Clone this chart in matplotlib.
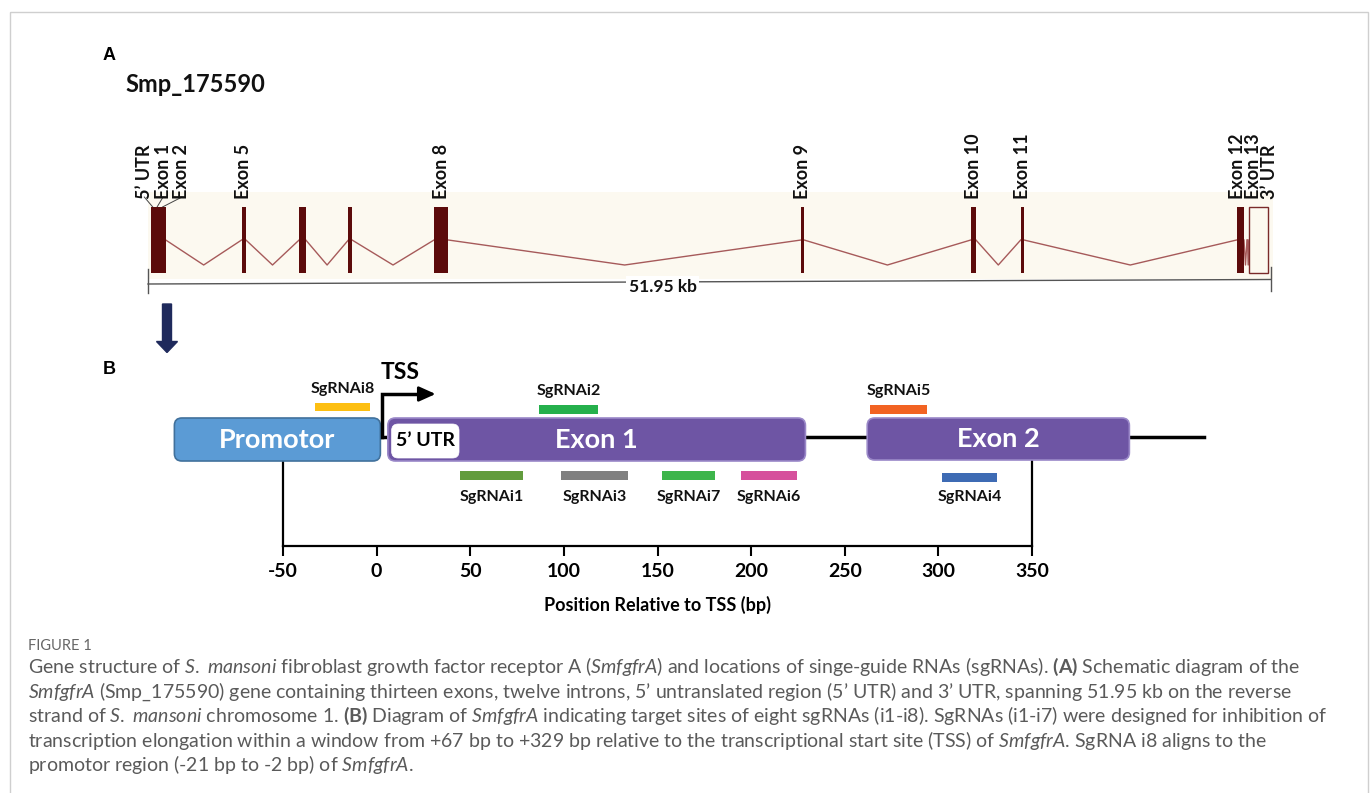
import matplotlib
matplotlib.use("Agg")
import matplotlib.pyplot as plt
from matplotlib.patches import Rectangle, FancyBboxPatch, FancyArrow

W, H = 1372, 793

plt.rcParams['font.family'] = 'Lato'
plt.rcParams['mathtext.fontset'] = 'custom'
plt.rcParams['mathtext.rm'] = 'Lato'
plt.rcParams['mathtext.it'] = 'Lato:italic'
plt.rcParams['mathtext.bf'] = 'Lato:bold'

# ---- panel A: gene model, positions in kb from the 5' end ----
gene_name = "Smp_175590"
gene_len = 51.95
exon_names = ["5’ UTR", "Exon 1", "Exon 2", "Exon 5", "", "", "Exon 8",
              "Exon 9", "Exon 10", "Exon 11", "Exon 12", "Exon 13"]
exon_start = [0.12, 0.34, 0.52, 4.33, 6.99, 9.27, 13.23, 30.21, 38.06, 40.37, 50.36, 50.84]
exon_end = [0.32, 0.50, 0.82, 4.53, 7.30, 9.44, 13.89, 30.35, 38.30, 40.52, 50.70, 50.86]
utr3_name = "3’ UTR"
utr3 = (50.93, 51.83)

# ---- panel B: bp relative to TSS ----
promoter = (-108, 2)
exon1 = (6, 229)
utr5 = (8, 44)
exon2 = (262, 402)
line_end = 442
tss = 3
sg_names = ["SgRNAi1", "SgRNAi2", "SgRNAi3", "SgRNAi4",
            "SgRNAi5", "SgRNAi6", "SgRNAi7", "SgRNAi8"]
sg_start = [44.5, 86.7, 98.5, 301.9, 263.5, 194.6, 152.4, -32.8]
sg_end = [78.2, 118.2, 134.3, 331.3, 293.9, 224.5, 180.7, -3.5]
sg_above = [False, True, False, False, True, False, False, True]
sg_colors = ["#629c3d", "#25b04c", "#808080", "#3e6bb4",
             "#f26322", "#d6509c", "#3db54b", "#fdbf12"]
ruler_ticks = list(range(-50, 351, 50))

fig = plt.figure(figsize=(W / 100, H / 100), dpi=100)


def px_axes(x0, x1, y0, y1, xlim):
    # axes placed in pixel coordinates, y data == pixel row
    ax = fig.add_axes([x0 / W, (H - y1) / H, (x1 - x0) / W, (y1 - y0) / H])
    ax.set_xlim(*xlim)
    ax.set_ylim(y1, y0)
    ax.patch.set_alpha(0)
    return ax


# ================= Panel A =================
maroon = "#5c0b0b"
axA = px_axes(148, 1271, 192, 279, (0, gene_len))
axA.axis('off')
kb_px = 1123 / gene_len
axA.add_patch(Rectangle((0, 192), gene_len + 0.1, 87, fc="#fcf9f0", ec="none", clip_on=False))

for s, e in zip(exon_start, exon_end):
    axA.add_patch(Rectangle((s, 207), e - s, 66, fc=maroon, ec="none", clip_on=False, zorder=3))
axA.add_patch(Rectangle((utr3[0], 207), utr3[1] - utr3[0], 66, fc="none", ec="#7a2a2a",
                        lw=1, clip_on=False, zorder=3))

# introns: only between blocks that are clearly apart
blocks = list(zip(exon_start, exon_end)) + [utr3]
for (s1, e1), (s2, e2) in zip(blocks[:-1], blocks[1:]):
    if s2 - e1 > 0.04:
        axA.plot([e1, (e1 + s2) / 2, s2], [240, 265, 240], color="#a65a5a", lw=1,
                 clip_on=False, zorder=2)

# scale bar
axA.plot([0, gene_len], [284, 279.5], color="#555555", lw=1, clip_on=False)
axA.plot([0, 0], [269, 293], color="#555555", lw=1, clip_on=False)
axA.plot([gene_len, gene_len], [267, 291], color="#555555", lw=1, clip_on=False)
label_kb = 23.8
axA.text(label_kb, 287, f"{gene_len:.2f} kb", ha="center", va="center", fontsize=12.5,
         fontweight="bold", color="#111111", zorder=5,
         bbox=dict(boxstyle="square,pad=0.15", fc="white", ec="none"))

# exon labels (crowded ones nudged sideways, in px)
nudge = {"5’ UTR": -8.5, "Exon 1": 6, "Exon 2": 19.5, "Exon 12": -3, "Exon 13": 6}
for name, s, e in zip(exon_names, exon_start, exon_end):
    if not name:
        continue
    c = (s + e) / 2
    lx = c + nudge.get(name, 0) / kb_px
    axA.text(lx, 199, name, rotation=90, ha="center", va="bottom", fontsize=13,
             fontweight="bold", color="#111111", clip_on=False)
    if name in ("5’ UTR", "Exon 1", "Exon 2"):
        axA.plot([lx, c], [197, 207], color="#444444", lw=0.7, clip_on=False)
axA.text((utr3[0] + utr3[1]) / 2 + 10.5 / kb_px, 199, utr3_name, rotation=90, ha="center",
         va="bottom", fontsize=13, fontweight="bold", color="#111111", clip_on=False)

# ================= Panel B =================
bp_px = 749 / 400
axB = px_axes(283, 1032, 461, 546, (-50, 350))
axB.spines["top"].set_visible(False)
for sp in ("left", "right", "bottom"):
    axB.spines[sp].set_linewidth(1.6)
axB.set_yticks([])
axB.set_xticks(ruler_ticks)
axB.set_xticklabels([str(t) for t in ruler_ticks], fontsize=14, fontweight="bold")
axB.tick_params(axis="x", direction="out", length=7, width=1.5, pad=5)
axB.set_xlabel("Position Relative to TSS (bp)", fontsize=13, fontweight="bold", labelpad=12)


def rbox(x0, x1, y0, y1, fc, ec, lw=1.2, r=4):
    axB.add_patch(FancyBboxPatch((x0, y0), x1 - x0, y1 - y0,
                                 boxstyle=f"round,pad=0,rounding_size={r}",
                                 mutation_aspect=bp_px, fc=fc, ec=ec, lw=lw,
                                 clip_on=False, zorder=3))


# backbone line
axB.plot([promoter[1], exon1[0]], [437, 437], color="black", lw=2.5, clip_on=False, zorder=2)
axB.plot([exon1[1], line_end], [437, 437], color="black", lw=2.5, clip_on=False, zorder=2)

rbox(promoter[0], promoter[1], 418, 461, "#5b9bd5", "#41719c")
rbox(exon1[0], exon1[1], 418, 461, "#6e55a4", "#9a88c8")
rbox(exon2[0], exon2[1], 418, 460, "#6e55a4", "#9a88c8")
rbox(utr5[0], utr5[1], 424, 458, "white", "white", lw=0.5, r=3.5)

axB.text(sum(promoter) / 2, 440, "Promotor", ha="center", va="center", fontsize=19.5,
         fontweight="bold", color="white", zorder=4)
axB.text(sum(exon1) / 2, 440, "Exon 1", ha="center", va="center", fontsize=19.5,
         fontweight="bold", color="white", zorder=4)
axB.text(sum(exon2) / 2, 439, "Exon 2", ha="center", va="center", fontsize=19.5,
         fontweight="bold", color="white", zorder=4)
axB.text(sum(utr5) / 2, 441, "5’ UTR", ha="center", va="center", fontsize=14,
         fontweight="bold", color="black", zorder=4)

# TSS bent arrow
axB.plot([tss, tss, 26], [437, 394, 394], color="black", lw=2.5, clip_on=False,
         solid_joinstyle="miter", zorder=4)
axB.annotate("", xy=(31.5, 394), xytext=(22, 394), annotation_clip=False,
             arrowprops=dict(arrowstyle="-|>,head_length=1.0,head_width=0.45", color="black",
                             lw=2, shrinkA=0, shrinkB=0, mutation_scale=10))
axB.text(tss + 9.5, 373, "TSS", ha="center", va="center", fontsize=16.5,
         fontweight="bold", color="black")

# sgRNA target bars
for name, s, e, up, col in zip(sg_names, sg_start, sg_end, sg_above, sg_colors):
    if up:
        y0 = 403 if name == "SgRNAi8" else 405.5
        axB.add_patch(Rectangle((s, y0), e - s, 8.5, fc=col, ec="none", clip_on=False))
        axB.text((s + e) / 2, y0 - 14, name, ha="center", va="center", fontsize=11.5,
                 fontweight="bold", color="#111111")
    else:
        y0 = 473 if name == "SgRNAi4" else 470.5
        axB.add_patch(Rectangle((s, y0), e - s, 9, fc=col, ec="none", clip_on=False))
        axB.text((s + e) / 2, 497, name, ha="center", va="center", fontsize=11.5,
                 fontweight="bold", color="#111111")

# ================= page furniture =================
ax0 = fig.add_axes([0, 0, 1, 1])
ax0.set_xlim(0, W)
ax0.set_ylim(H, 0)
ax0.axis('off')
ax0.add_patch(Rectangle((9.5, 11.5), 1358, 800, fill=False, ec="#cfcfcf", lw=1))
ax0.text(103, 55, "A", ha="left", va="center", fontsize=13, fontweight="bold",
         family="Liberation Sans")
ax0.text(103, 370, "B", ha="left", va="center", fontsize=13, fontweight="bold",
         family="Liberation Sans")
ax0.text(125, 84, gene_name, ha="left", va="center", fontsize=17, fontweight="bold",
         color="#111111")
ax0.add_patch(FancyArrow(167, 304, 0, 48.5, width=9, head_width=21, head_length=11,
                         length_includes_head=True, color="#1f2a5c"))

caption = [
    r"Gene structure of $\mathit{S.}$ $\mathit{mansoni}$ fibroblast growth factor receptor A ($\mathit{SmfgfrA}$) and locations of singe-guide RNAs (sgRNAs). $\mathbf{(A)}$ Schematic diagram of the",
    r"$\mathit{SmfgfrA}$ (Smp_175590) gene containing thirteen exons, twelve introns, 5’ untranslated region (5’ UTR) and 3’ UTR, spanning 51.95 kb on the reverse",
    r"strand of $\mathit{S.}$ $\mathit{mansoni}$ chromosome 1. $\mathbf{(B)}$ Diagram of $\mathit{SmfgfrA}$ indicating target sites of eight sgRNAs (i1-i8). SgRNAs (i1-i7) were designed for inhibition of",
    r"transcription elongation within a window from +67 bp to +329 bp relative to the transcriptional start site (TSS) of $\mathit{SmfgfrA}$. SgRNA i8 aligns to the",
    r"promotor region (-21 bp to -2 bp) of $\mathit{SmfgfrA}$.",
]
ax0.text(28, 650, "FIGURE 1", ha="left", va="baseline", fontsize=10.5, color="#666666")
for i, line in enumerate(caption):
    ax0.text(28, 673 + 24.5 * i, line, ha="left", va="baseline", fontsize=14,
             color="#5a5a5a")

fig.savefig("out.png", dpi=100)
